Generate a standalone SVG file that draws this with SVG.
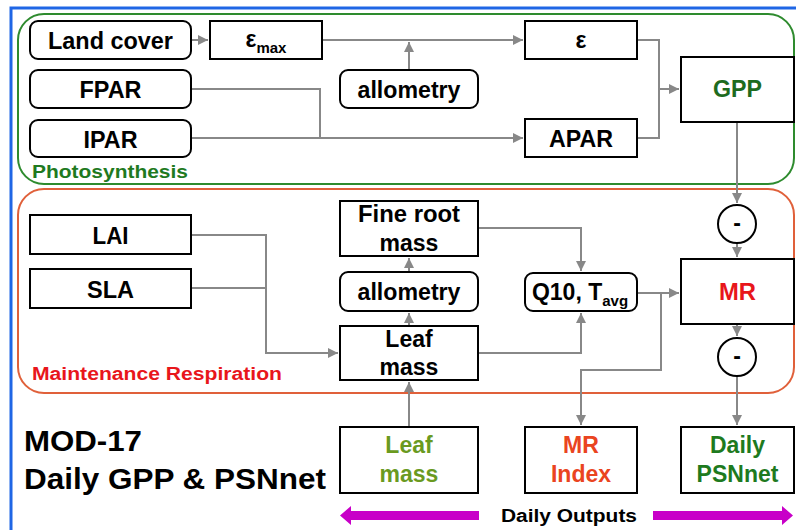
<svg xmlns="http://www.w3.org/2000/svg" width="796" height="530" viewBox="0 0 796 530">
<defs>
<style>
.box{fill:#fff;stroke:#000;stroke-width:2}
.t{font-family:"Liberation Sans",Arial,sans-serif;font-weight:bold;font-size:23px;text-anchor:middle}
.sub{font-size:15px}
.c{fill:none;stroke:#888;stroke-width:2}
.lbl{font-family:"Liberation Sans",Arial,sans-serif;font-weight:bold}
.green{fill:#1e6b1e}
.red{fill:#e8161b}
.olive{fill:#6a9a1f}
.orange{fill:#ea4420}
.dgreen{fill:#1e7a1e}
</style>
<marker id="ah" viewBox="0 0 10 10" refX="10" refY="5" markerWidth="5" markerHeight="5" orient="auto" markerUnits="strokeWidth">
<path d="M0,0 L10,5 L0,10 z" fill="#888"/>
</marker>
</defs>
<rect width="796" height="530" fill="#fff"/>
<path d="M11,530 V8 H796" fill="none" stroke="#1f66e5" stroke-width="3"/>

<g id="group-photosynthesis">
<rect x="18" y="14" width="776" height="170" rx="26" fill="none" stroke="#2e8b2e" stroke-width="2"/>
<text class="lbl" x="32" y="178" font-size="18" fill="#1f7a1f" textLength="156" lengthAdjust="spacingAndGlyphs">Photosynthesis</text>
</g>
<g id="group-respiration">
<rect x="18" y="189" width="776" height="204" rx="26" fill="none" stroke="#e0603a" stroke-width="2"/>
<text class="lbl" x="32" y="380" font-size="18" fill="#e8161b" textLength="250" lengthAdjust="spacingAndGlyphs">Maintenance Respiration</text>
</g>

<g id="connectors">
<path class="c" d="M191,40 H208" marker-end="url(#ah)"/>
<path class="c" d="M322,40 H523" marker-end="url(#ah)"/>
<path class="c" d="M409,70 V42" marker-end="url(#ah)"/>
<path class="c" d="M191,89 H320 V138"/>
<path class="c" d="M191,138 H523" marker-end="url(#ah)"/>
<path class="c" d="M637,40 H659 V138 H637"/>
<path class="c" d="M659,89 H679" marker-end="url(#ah)"/>
<path class="c" d="M737,122 V203" marker-end="url(#ah)"/>
<path class="c" d="M737,243 V257" marker-end="url(#ah)"/>
<path class="c" d="M737,324 V336" marker-end="url(#ah)"/>
<path class="c" d="M737,377 V425" marker-end="url(#ah)"/>
<path class="c" d="M191,235 H266 V353 H338" marker-end="url(#ah)"/>
<path class="c" d="M191,288 H266"/>
<path class="c" d="M409,326 V313" marker-end="url(#ah)"/>
<path class="c" d="M409,272 V258" marker-end="url(#ah)"/>
<path class="c" d="M478,228 H581 V271" marker-end="url(#ah)"/>
<path class="c" d="M478,353 H581 V313" marker-end="url(#ah)"/>
<path class="c" d="M637,293 H679" marker-end="url(#ah)"/>
<path class="c" d="M661,293 V370 H581 V425" marker-end="url(#ah)"/>
<path class="c" d="M409,427 V382" marker-end="url(#ah)"/>
</g>

<g id="landcover"><rect class="box" x="30" y="21" width="161" height="38" rx="8"/><text class="t" x="110.5" y="49" textLength="125" lengthAdjust="spacingAndGlyphs">Land cover</text></g>
<g id="emax"><rect class="box" x="210" y="21" width="112" height="38"/><text class="t" x="266" y="47">ε<tspan class="sub" dy="6">max</tspan></text></g>
<g id="fpar"><rect class="box" x="30" y="70" width="161" height="38" rx="8"/><text class="t" x="110.5" y="98" textLength="62" lengthAdjust="spacingAndGlyphs">FPAR</text></g>
<g id="ipar"><rect class="box" x="30" y="120" width="161" height="37" rx="8"/><text class="t" x="110.5" y="148" textLength="54" lengthAdjust="spacingAndGlyphs">IPAR</text></g>
<g id="allometry1"><rect class="box" x="340" y="70" width="138" height="38" rx="8"/><text class="t" x="409" y="98" textLength="103" lengthAdjust="spacingAndGlyphs">allometry</text></g>
<g id="epsilon"><rect class="box" x="525" y="21" width="112" height="38"/><text class="t" x="581" y="48">ε</text></g>
<g id="apar"><rect class="box" x="525" y="119" width="112" height="38"/><text class="t" x="581" y="147" textLength="64" lengthAdjust="spacingAndGlyphs">APAR</text></g>
<g id="gpp"><rect class="box" x="681" y="57" width="113" height="65"/><text class="t green" x="737.5" y="97" textLength="49" lengthAdjust="spacingAndGlyphs">GPP</text></g>

<g id="minus1"><circle cx="737" cy="224" r="19" fill="#fff" stroke="#000" stroke-width="2"/><text class="t" x="737" y="231">-</text></g>
<g id="mr"><rect class="box" x="681" y="259" width="113" height="65"/><text class="t red" x="737.5" y="300" textLength="37" lengthAdjust="spacingAndGlyphs">MR</text></g>
<g id="minus2"><circle cx="737" cy="357" r="19" fill="#fff" stroke="#000" stroke-width="2"/><text class="t" x="737" y="364">-</text></g>

<g id="lai"><rect class="box" x="30" y="215" width="161" height="39"/><text class="t" x="110.5" y="244" textLength="36" lengthAdjust="spacingAndGlyphs">LAI</text></g>
<g id="sla"><rect class="box" x="30" y="269" width="161" height="39"/><text class="t" x="110.5" y="298" textLength="47" lengthAdjust="spacingAndGlyphs">SLA</text></g>
<g id="fineroot"><rect class="box" x="340" y="201" width="138" height="55"/><text class="t" x="409" y="222" textLength="102" lengthAdjust="spacingAndGlyphs">Fine root</text><text class="t" x="409" y="251">mass</text></g>
<g id="allometry2"><rect class="box" x="340" y="272" width="138" height="39" rx="8"/><text class="t" x="409" y="300" textLength="103" lengthAdjust="spacingAndGlyphs">allometry</text></g>
<g id="leafmass"><rect class="box" x="340" y="326" width="138" height="54"/><text class="t" x="409" y="347">Leaf</text><text class="t" x="409" y="375">mass</text></g>
<g id="q10"><rect class="box" x="525" y="273" width="112" height="38" rx="8"/><text class="t" x="580" y="300">Q10, T<tspan class="sub" dy="6">avg</tspan></text></g>

<g id="out-leafmass"><rect class="box" x="340" y="427" width="138" height="66"/><text class="t olive" x="409" y="453">Leaf</text><text class="t olive" x="409" y="482">mass</text></g>
<g id="out-mrindex"><rect class="box" x="525" y="427" width="112" height="66"/><text class="t orange" x="581" y="453">MR</text><text class="t orange" x="581" y="482">Index</text></g>
<g id="out-psnnet"><rect class="box" x="681" y="427" width="113" height="66"/><text class="t dgreen" x="737.5" y="453">Daily</text><text class="t dgreen" x="737.5" y="482">PSNnet</text></g>

<g id="title">
<text class="lbl" x="24" y="451" font-size="29" fill="#000" textLength="118" lengthAdjust="spacingAndGlyphs">MOD-17</text>
<text class="lbl" x="24" y="489" font-size="29" fill="#000" textLength="302" lengthAdjust="spacingAndGlyphs">Daily GPP &amp; PSNnet</text>
</g>

<g id="daily-outputs">
<path d="M479,511 H351 V506 L340,515.5 L351,525 V520 H479 z" fill="#c800c8"/>
<path d="M653,511 H782 V506 L793,515.5 L782,525 V520 H653 z" fill="#c800c8"/>
<text class="lbl" x="569" y="522" font-size="18" text-anchor="middle" fill="#000" textLength="136" lengthAdjust="spacingAndGlyphs">Daily Outputs</text>
</g>
</svg>
